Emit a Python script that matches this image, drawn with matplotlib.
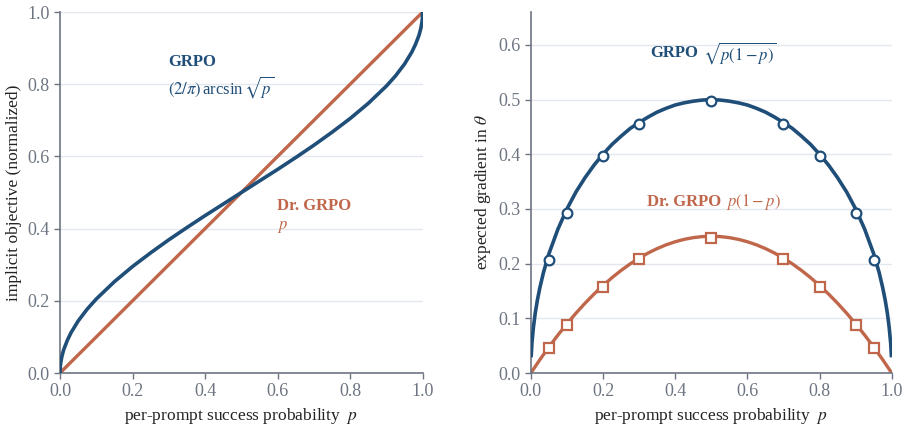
import matplotlib
matplotlib.use("Agg")
import matplotlib.pyplot as plt

plt.rcParams['font.family'] = ['Liberation Serif', 'DejaVu Serif']
plt.rcParams['mathtext.fontset'] = 'stix'

BLUE = '#1f4e79'
ORANGE = '#c0674b'
GRAY = '#6e7582'
GRID = '#e4e8ee'

# left panel: implicit objective
p_obj = [0.0, 0.001, 0.002, 0.005, 0.01, 0.02, 0.03, 0.05, 0.075, 0.1, 0.15, 0.2, 0.25,
         0.3, 0.35, 0.4, 0.45, 0.5, 0.55, 0.6, 0.65, 0.7, 0.75, 0.8, 0.85, 0.9,
         0.925, 0.95, 0.97, 0.98, 0.99, 0.995, 0.998, 0.999, 1.0]
grpo_obj = [0.0, 0.020, 0.028, 0.045, 0.064, 0.090, 0.111, 0.144, 0.177, 0.205, 0.253,
            0.295, 0.333, 0.369, 0.403, 0.436, 0.468, 0.5, 0.532, 0.564, 0.597,
            0.631, 0.667, 0.705, 0.747, 0.795, 0.823, 0.856, 0.889, 0.910, 0.936,
            0.955, 0.972, 0.980, 1.0]
dr_obj = [0.0, 1.0]
dr_p = [0.0, 1.0]

# right panel: expected gradient
p_grad = [0.001, 0.003, 0.007, 0.012, 0.018, 0.025, 0.035, 0.05, 0.075, 0.1, 0.125,
          0.15, 0.175, 0.2, 0.225, 0.25, 0.275, 0.3, 0.325, 0.35, 0.375, 0.4, 0.425,
          0.45, 0.475, 0.5, 0.525, 0.55, 0.575, 0.6, 0.625, 0.65, 0.675, 0.7, 0.725,
          0.75, 0.775, 0.8, 0.825, 0.85, 0.875, 0.9, 0.925, 0.95, 0.965, 0.975,
          0.982, 0.988, 0.993, 0.997, 0.999]
grpo_grad = [0.032, 0.055, 0.083, 0.109, 0.133, 0.156, 0.184, 0.218, 0.263, 0.300,
             0.331, 0.357, 0.380, 0.400, 0.418, 0.433, 0.447, 0.458, 0.468, 0.477,
             0.484, 0.490, 0.494, 0.497, 0.499, 0.5, 0.499, 0.497, 0.494, 0.490,
             0.484, 0.477, 0.468, 0.458, 0.447, 0.433, 0.418, 0.400, 0.380, 0.357,
             0.331, 0.300, 0.263, 0.218, 0.184, 0.156, 0.133, 0.109, 0.083, 0.055,
             0.032]
p_grad2 = [0.0, 0.025, 0.05, 0.075, 0.1, 0.125, 0.15, 0.175, 0.2, 0.225, 0.25, 0.275,
           0.3, 0.325, 0.35, 0.375, 0.4, 0.425, 0.45, 0.475, 0.5, 0.525, 0.55, 0.575,
           0.6, 0.625, 0.65, 0.675, 0.7, 0.725, 0.75, 0.775, 0.8, 0.825, 0.85, 0.875,
           0.9, 0.925, 0.95, 0.975, 1.0]
dr_grad = [0.0, 0.0244, 0.0475, 0.0694, 0.09, 0.1094, 0.1275, 0.1444, 0.16, 0.1744,
           0.1875, 0.1994, 0.21, 0.2194, 0.2275, 0.2344, 0.24, 0.2444, 0.2475, 0.2494,
           0.25, 0.2494, 0.2475, 0.2444, 0.24, 0.2344, 0.2275, 0.2194, 0.21, 0.1994,
           0.1875, 0.1744, 0.16, 0.1444, 0.1275, 0.1094, 0.09, 0.0694, 0.0475, 0.0244,
           0.0]

# sampled points (markers)
p_mark = [0.05, 0.1, 0.2, 0.3, 0.5, 0.7, 0.8, 0.9, 0.95]
grpo_mark = [0.207, 0.293, 0.396, 0.455, 0.497, 0.455, 0.396, 0.293, 0.207]
dr_mark = [0.046, 0.088, 0.158, 0.208, 0.247, 0.208, 0.158, 0.088, 0.046]

fig = plt.figure(figsize=(9.09, 4.29), dpi=100)
ax1 = fig.add_axes([0.066, 0.1305, 0.399, 0.8415])
ax2 = fig.add_axes([0.584, 0.1305, 0.397, 0.8415])

def style(ax):
    for s in ['top', 'right']:
        ax.spines[s].set_visible(False)
    for s in ['left', 'bottom']:
        ax.spines[s].set_color(GRAY)
        ax.spines[s].set_linewidth(1.2)
    ax.tick_params(colors=GRAY, labelsize=13, length=4, width=1)
    ax.yaxis.grid(True, color=GRID, linewidth=1)
    ax.set_axisbelow(True)
    ax.set_xlim(0, 1)
    ax.set_xticks([0, 0.2, 0.4, 0.6, 0.8, 1.0])
    ax.set_xlabel('per-prompt success probability  $p$', fontsize=12.5, color='#222222')

style(ax1)
ax1.plot(dr_p, dr_obj, color=ORANGE, lw=2.4, zorder=2)
ax1.plot(p_obj, grpo_obj, color=BLUE, lw=2.6, zorder=3)
ax1.set_ylim(0, 1)
ax1.set_yticks([0, 0.2, 0.4, 0.6, 0.8, 1.0])
ax1.set_ylabel('implicit objective (normalized)', fontsize=12.5, color='#222222')
ax1.text(0.298, 0.862, 'GRPO', color=BLUE, fontsize=12, fontweight='bold', va='center')
ax1.text(0.298, 0.792, r'$(2/\pi)\,$arcsin$\,\sqrt{p}$', color=BLUE, fontsize=12, va='center')
ax1.text(0.598, 0.462, 'Dr. GRPO', color=ORANGE, fontsize=12, fontweight='bold', va='center')
ax1.text(0.598, 0.405, r'$p$', color=ORANGE, fontsize=12, va='center')

style(ax2)
ax2.plot(p_grad, grpo_grad, color=BLUE, lw=2.6, zorder=3)
ax2.plot(p_grad2, dr_grad, color=ORANGE, lw=2.4, zorder=2)
ax2.plot(p_mark, grpo_mark, 'o', ms=7, mfc='white', mec=BLUE, mew=1.6, zorder=4)
ax2.plot(p_mark, dr_mark, 's', ms=7, mfc='white', mec=ORANGE, mew=1.6, zorder=4)
ax2.set_ylim(0, 0.66)
ax2.set_yticks([0, 0.1, 0.2, 0.3, 0.4, 0.5, 0.6])
ax2.set_ylabel(r'expected gradient in $\theta$', fontsize=12.5, color='#222222')
ax2.text(0.332, 0.585, 'GRPO', color=BLUE, fontsize=12, fontweight='bold', va='center')
ax2.text(0.478, 0.585, r'$\sqrt{p(1-p)}$', color=BLUE, fontsize=12, va='center')
ax2.text(0.321, 0.313, 'Dr. GRPO', color=ORANGE, fontsize=12, fontweight='bold', va='center')
ax2.text(0.54, 0.313, r'$p(1-p)$', color=ORANGE, fontsize=12, va='center')

fig.savefig('out.png', dpi=100)
